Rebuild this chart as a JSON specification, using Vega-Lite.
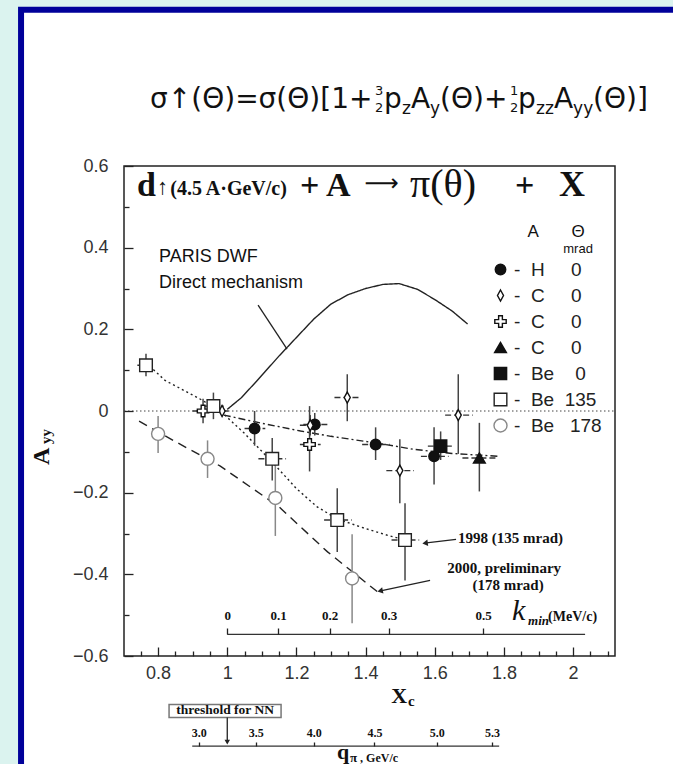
{
"$schema": "https://vega.github.io/schema/vega-lite/v6.json",
"width": 491, "height": 490,
"autosize": "none",
"padding": {"left": 124, "top": 166, "right": 58, "bottom": 108},
"background": "#dbf3ef",
"config": {
  "view": {"stroke": null},
  "axis": {"grid": false, "domain": false, "title": null, "labelColor": "#333", "tickColor": "#222", "tickWidth": 1.3, "labelFont": "Liberation Sans", "labelFontSize": 18},
  "text": {"color": "#111"}
},
"datasets": {
  "pts": [
    {"s": "H0", "x": 1.079, "y": -0.043, "ylo": -0.085, "yhi": 0.0, "xlo": 1.05, "xhi": 1.11},
    {"s": "H0", "x": 1.253, "y": -0.033, "ylo": -0.06, "yhi": -0.005, "xlo": 1.22, "xhi": 1.29},
    {"s": "H0", "x": 1.429, "y": -0.082, "ylo": -0.12, "yhi": -0.04, "xlo": 1.39, "xhi": 1.47},
    {"s": "H0", "x": 1.598, "y": -0.111, "ylo": -0.18, "yhi": -0.04, "xlo": 1.56, "xhi": 1.64},
    {"s": "C0d", "x": 0.985, "y": 0.0, "ylo": -0.012, "yhi": 0.012, "xlo": 0.96, "xhi": 1.01},
    {"s": "C0d", "x": 1.24, "y": -0.035, "ylo": -0.06, "yhi": -0.01, "xlo": 1.21, "xhi": 1.27},
    {"s": "C0d", "x": 1.347, "y": 0.033, "ylo": -0.025, "yhi": 0.09, "xlo": 1.31, "xhi": 1.385},
    {"s": "C0d", "x": 1.499, "y": -0.146, "ylo": -0.226, "yhi": -0.069, "xlo": 1.46, "xhi": 1.54},
    {"s": "C0d", "x": 1.668, "y": -0.01, "ylo": -0.105, "yhi": 0.09, "xlo": 1.63, "xhi": 1.71},
    {"s": "C0c", "x": 0.93, "y": 0.0, "ylo": -0.03, "yhi": 0.03, "xlo": 0.9, "xhi": 0.96},
    {"s": "C0c", "x": 1.238, "y": -0.082, "ylo": -0.148, "yhi": 0.012, "xlo": 1.21, "xhi": 1.27},
    {"s": "C0t", "x": 1.729, "y": -0.115, "ylo": -0.197, "yhi": -0.029, "xlo": 1.68, "xhi": 1.78},
    {"s": "Be0", "x": 1.617, "y": -0.086, "ylo": -0.12, "yhi": -0.05, "xlo": 1.58, "xhi": 1.65},
    {"s": "Be135", "x": 0.765, "y": 0.112, "ylo": 0.085, "yhi": 0.14, "xlo": 0.74, "xhi": 0.79},
    {"s": "Be135", "x": 0.96, "y": 0.012, "ylo": -0.02, "yhi": 0.045, "xlo": 0.93, "xhi": 0.99},
    {"s": "Be135", "x": 1.13, "y": -0.117, "ylo": -0.17, "yhi": -0.066, "xlo": 1.09, "xhi": 1.17},
    {"s": "Be135", "x": 1.318, "y": -0.267, "ylo": -0.345, "yhi": -0.189, "xlo": 1.28, "xhi": 1.36},
    {"s": "Be135", "x": 1.514, "y": -0.316, "ylo": -0.415, "yhi": -0.226, "xlo": 1.475, "xhi": 1.555},
    {"s": "Be178", "x": 0.8, "y": -0.056, "ylo": -0.103, "yhi": -0.012, "xlo": null, "xhi": null},
    {"s": "Be178", "x": 0.943, "y": -0.117, "ylo": -0.164, "yhi": -0.072, "xlo": null, "xhi": null},
    {"s": "Be178", "x": 1.139, "y": -0.213, "ylo": -0.306, "yhi": -0.13, "xlo": null, "xhi": null},
    {"s": "Be178", "x": 1.361, "y": -0.41, "ylo": -0.52, "yhi": -0.302, "xlo": null, "xhi": null}
  ],
  "curves": [
    {"c": "PARIS", "x": 1.0, "y": 0.004}, {"c": "PARIS", "x": 1.04, "y": 0.032}, {"c": "PARIS", "x": 1.086, "y": 0.074},
    {"c": "PARIS", "x": 1.15, "y": 0.135}, {"c": "PARIS", "x": 1.2, "y": 0.18}, {"c": "PARIS", "x": 1.25, "y": 0.225},
    {"c": "PARIS", "x": 1.3, "y": 0.262}, {"c": "PARIS", "x": 1.35, "y": 0.285}, {"c": "PARIS", "x": 1.4, "y": 0.3},
    {"c": "PARIS", "x": 1.45, "y": 0.31}, {"c": "PARIS", "x": 1.497, "y": 0.312}, {"c": "PARIS", "x": 1.55, "y": 0.298},
    {"c": "PARIS", "x": 1.6, "y": 0.273}, {"c": "PARIS", "x": 1.65, "y": 0.245}, {"c": "PARIS", "x": 1.695, "y": 0.213},
    {"c": "B135", "x": 0.765, "y": 0.118}, {"c": "B135", "x": 0.82, "y": 0.075}, {"c": "B135", "x": 0.92, "y": 0.03},
    {"c": "B135", "x": 0.98, "y": 0.0}, {"c": "B135", "x": 1.05, "y": -0.055}, {"c": "B135", "x": 1.13, "y": -0.125},
    {"c": "B135", "x": 1.2, "y": -0.19}, {"c": "B135", "x": 1.26, "y": -0.235}, {"c": "B135", "x": 1.32, "y": -0.265},
    {"c": "B135", "x": 1.4, "y": -0.288}, {"c": "B135", "x": 1.47, "y": -0.306}, {"c": "B135", "x": 1.515, "y": -0.316},
    {"c": "H", "x": 0.99, "y": -0.01}, {"c": "H", "x": 1.1, "y": -0.03}, {"c": "H", "x": 1.212, "y": -0.049},
    {"c": "H", "x": 1.3, "y": -0.062}, {"c": "H", "x": 1.443, "y": -0.08}, {"c": "H", "x": 1.54, "y": -0.094},
    {"c": "H", "x": 1.65, "y": -0.104}, {"c": "H", "x": 1.786, "y": -0.111},
    {"c": "B178", "x": 0.745, "y": -0.025}, {"c": "B178", "x": 0.85, "y": -0.075}, {"c": "B178", "x": 0.98, "y": -0.135},
    {"c": "B178", "x": 1.15, "y": -0.235}, {"c": "B178", "x": 1.29, "y": -0.345}, {"c": "B178", "x": 1.445, "y": -0.45}
  ],
  "kmin": [{"k": 0, "xc": 1.0}, {"k": 0.1, "xc": 1.1469}, {"k": 0.2, "xc": 1.2961}, {"k": 0.3, "xc": 1.4667}, {"k": 0.5, "xc": 1.7397}],
  "qpi": [{"q": 3.0, "xc": 0.9173}, {"q": 3.5, "xc": 1.0824}, {"q": 4.0, "xc": 1.2499}, {"q": 4.5, "xc": 1.4254}, {"q": 5.0, "xc": 1.6061}, {"q": 5.3, "xc": 1.7658}]
},
"layer": [
    {"data": {"values": [{}]},
     "mark": {"type": "rect", "fill": "white", "stroke": "#00009a", "strokeWidth": 6},
     "encoding": {
       "x": {"datum": 0.4037, "type": "quantitative",
             "scale": {"domain": [0.7014, 2.1212], "nice": false, "zero": false},
             "axis": {"orient": "bottom", "zindex": 2,
                      "values": [0.75,0.8,0.85,0.9,0.95,1,1.05,1.1,1.15,1.2,1.25,1.3,1.35,1.4,1.45,1.5,1.55,1.6,1.65,1.7,1.75,1.8,1.85,1.9,1.95,2,2.05,2.1],
                      "labelExpr": "abs(datum.value*5 - round(datum.value*5)) < 0.001 ? toString(round(datum.value*10)/10) : ''",
                      "tickSize": {"condition": {"test": "abs(datum.value*5 - round(datum.value*5)) < 0.001", "value": -9}, "value": -5},
                      "labelPadding": 17, "labelFlush": false, "labelOverlap": false}},
       "x2": {"datum": 2.4},
       "y": {"datum": 0.9824, "type": "quantitative",
             "scale": {"domain": [-0.6, 0.6], "nice": false, "zero": false},
             "axis": {"orient": "left", "zindex": 2,
                      "values": [-0.6,-0.55,-0.5,-0.45,-0.4,-0.35,-0.3,-0.25,-0.2,-0.15,-0.1,-0.05,0,0.05,0.1,0.15,0.2,0.25,0.3,0.35,0.4,0.45,0.5,0.55,0.6],
                      "labelExpr": "abs(datum.value*5 - round(datum.value*5)) < 0.001 ? (datum.value < -0.001 ? '\u2212' : '') + toString(abs(round(datum.value*10)/10)) : ''",
                      "tickSize": {"condition": {"test": "abs(datum.value*5 - round(datum.value*5)) < 0.001", "value": -9}, "value": -5},
                      "labelPadding": 25, "labelFlush": false, "labelOverlap": false}},
       "y2": {"datum": -1.0}
     }},
    {"data": {"values": [{}]},
     "mark": {"type": "rect", "fill": null, "fillOpacity": 0, "stroke": "#222", "strokeWidth": 1.5},
     "encoding": {"x": {"datum": 0.7014, "type": "quantitative", "axis": null}, "x2": {"datum": 2.1212}, "y": {"datum": -0.6, "type": "quantitative"}, "y2": {"datum": 0.6}}},
    {"data": {"values": [{}]},
     "mark": {"type": "rule", "stroke": "#444", "strokeWidth": 1, "strokeDash": [1.5, 2.5]},
     "encoding": {"x": {"datum": 0.7014, "type": "quantitative", "axis": null}, "x2": {"datum": 2.1212}, "y": {"datum": 0, "type": "quantitative"}}},
    {"data": {"name": "curves"},
     "mark": {"type": "line", "stroke": "#222", "strokeWidth": 1.4},
     "encoding": {
       "x": {"field": "x", "type": "quantitative", "axis": null},
       "y": {"field": "y", "type": "quantitative"},
       "strokeDash": {"field": "c", "type": "nominal", "legend": null,
                      "scale": {"domain": ["PARIS", "B135", "H", "B178"], "range": [[1, 0], [2, 3], [7, 3, 2, 3], [9, 6]]}}
     }},
    {"data": {"name": "pts"},
     "mark": {"type": "rule", "strokeWidth": 1.5},
     "encoding": {
       "x": {"field": "x", "type": "quantitative", "axis": null},
       "y": {"field": "ylo", "type": "quantitative"},
       "y2": {"field": "yhi"},
       "stroke": {"condition": {"test": "datum.s === 'Be178'", "value": "#888"}, "value": "#444"}
     }},
    {"data": {"name": "pts"},
     "transform": [{"filter": "datum.xlo != null"}],
     "mark": {"type": "rule", "strokeWidth": 1.4, "stroke": "#333", "strokeDash": [6, 3]},
     "encoding": {
       "x": {"field": "xlo", "type": "quantitative", "axis": null},
       "x2": {"field": "xhi"},
       "y": {"field": "y", "type": "quantitative"}
     }},
    {"data": {"name": "pts"},
     "mark": {"type": "point", "opacity": 1, "strokeWidth": 1.4},
     "encoding": {
       "x": {"field": "x", "type": "quantitative", "axis": null},
       "y": {"field": "y", "type": "quantitative"},
       "shape": {"field": "s", "type": "nominal",
                 "scale": {"domain": ["H0", "C0d", "C0c", "C0t", "Be0", "Be135", "Be178"],
                           "range": ["circle", "M0,-1L0.55,0L0,1L-0.55,0Z", "M-0.33,-1L0.33,-1L0.33,-0.33L1,-0.33L1,0.33L0.33,0.33L0.33,1L-0.33,1L-0.33,0.33L-1,0.33L-1,-0.33L-0.33,-0.33Z", "triangle-up", "square", "square", "circle"]},
                 "legend": {"orient": "none", "legendX": 367, "legendY": 94, "title": null, "zindex": 2,
                            "labelFont": "Liberation Sans", "labelFontSize": 19, "labelColor": "#222",
                            "rowPadding": 6, "labelOffset": 4, "symbolStrokeWidth": 1.4,
                            "labelExpr": "datum.label == 'H0' ? '-\u00a0\u00a0H\u00a0\u00a0\u00a0\u00a0\u00a00' : datum.label == 'Be0' ? '-\u00a0\u00a0Be\u00a0\u00a0\u00a0\u00a00' : datum.label == 'Be135' ? '-\u00a0\u00a0Be\u00a0\u00a0135' : datum.label == 'Be178' ? '-\u00a0\u00a0Be\u00a0\u00a0\u00a0178' : '-\u00a0\u00a0C\u00a0\u00a0\u00a0\u00a0\u00a00'",
                            "encode": {"labels": {"update": {"font": {"signal": "datum.value === 'Be178' ? 'Liberation Serif' : 'Liberation Sans'"}}}}}},
       "fill": {"field": "s", "type": "nominal",
                "scale": {"domain": ["H0", "C0d", "C0c", "C0t", "Be0", "Be135", "Be178"],
                          "range": ["#111", "white", "white", "#111", "#111", "white", "white"]}},
       "stroke": {"field": "s", "type": "nominal",
                  "scale": {"domain": ["H0", "C0d", "C0c", "C0t", "Be0", "Be135", "Be178"],
                            "range": ["#111", "#111", "#111", "#111", "#111", "#222", "#888"]}},
       "size": {"field": "s", "type": "nominal",
                "scale": {"domain": ["H0", "C0d", "C0c", "C0t", "Be0", "Be135", "Be178"],
                          "range": [110, 170, 150, 110, 120, 150, 150]}}
     }},
    {"data": {"values": [{}]}, "mark": {"type": "text", "text": "σ↑(Θ)=σ(Θ)[1+", "align": "left", "baseline": "alphabetic", "font": "DejaVu Sans", "fontSize": 28}, "encoding": {"x": {"datum": 0.7767, "type": "quantitative", "axis": null}, "y": {"datum": 0.7422, "type": "quantitative"}}},
    {"data": {"values": [{}]}, "mark": {"type": "text", "text": "3", "align": "left", "baseline": "alphabetic", "font": "DejaVu Sans", "fontSize": 13}, "encoding": {"x": {"datum": 1.4275, "type": "quantitative", "axis": null}, "y": {"datum": 0.7740, "type": "quantitative"}}},
    {"data": {"values": [{}]}, "mark": {"type": "text", "text": "2", "align": "left", "baseline": "alphabetic", "font": "DejaVu Sans", "fontSize": 13}, "encoding": {"x": {"datum": 1.4275, "type": "quantitative", "axis": null}, "y": {"datum": 0.7331, "type": "quantitative"}}},
    {"data": {"values": [{}]}, "mark": {"type": "text", "text": "p", "align": "left", "baseline": "alphabetic", "font": "DejaVu Sans", "fontSize": 28}, "encoding": {"x": {"datum": 1.4534, "type": "quantitative", "axis": null}, "y": {"datum": 0.7422, "type": "quantitative"}}},
    {"data": {"values": [{}]}, "mark": {"type": "text", "text": "z", "align": "left", "baseline": "alphabetic", "font": "DejaVu Sans", "fontSize": 17}, "encoding": {"x": {"datum": 1.5055, "type": "quantitative", "axis": null}, "y": {"datum": 0.7275, "type": "quantitative"}}},
    {"data": {"values": [{}]}, "mark": {"type": "text", "text": "A", "align": "left", "baseline": "alphabetic", "font": "DejaVu Sans", "fontSize": 28}, "encoding": {"x": {"datum": 1.5315, "type": "quantitative", "axis": null}, "y": {"datum": 0.7422, "type": "quantitative"}}},
    {"data": {"values": [{}]}, "mark": {"type": "text", "text": "y", "align": "left", "baseline": "alphabetic", "font": "DejaVu Sans", "fontSize": 17}, "encoding": {"x": {"datum": 1.5865, "type": "quantitative", "axis": null}, "y": {"datum": 0.7275, "type": "quantitative"}}},
    {"data": {"values": [{}]}, "mark": {"type": "text", "text": "(Θ)+", "align": "left", "baseline": "alphabetic", "font": "DejaVu Sans", "fontSize": 28}, "encoding": {"x": {"datum": 1.6154, "type": "quantitative", "axis": null}, "y": {"datum": 0.7422, "type": "quantitative"}}},
    {"data": {"values": [{}]}, "mark": {"type": "text", "text": "1", "align": "left", "baseline": "alphabetic", "font": "DejaVu Sans", "fontSize": 13}, "encoding": {"x": {"datum": 1.8179, "type": "quantitative", "axis": null}, "y": {"datum": 0.7740, "type": "quantitative"}}},
    {"data": {"values": [{}]}, "mark": {"type": "text", "text": "2", "align": "left", "baseline": "alphabetic", "font": "DejaVu Sans", "fontSize": 13}, "encoding": {"x": {"datum": 1.8179, "type": "quantitative", "axis": null}, "y": {"datum": 0.7331, "type": "quantitative"}}},
    {"data": {"values": [{}]}, "mark": {"type": "text", "text": "p", "align": "left", "baseline": "alphabetic", "font": "DejaVu Sans", "fontSize": 28}, "encoding": {"x": {"datum": 1.8410, "type": "quantitative", "axis": null}, "y": {"datum": 0.7422, "type": "quantitative"}}},
    {"data": {"values": [{}]}, "mark": {"type": "text", "text": "zz", "align": "left", "baseline": "alphabetic", "font": "DejaVu Sans", "fontSize": 17}, "encoding": {"x": {"datum": 1.8931, "type": "quantitative", "axis": null}, "y": {"datum": 0.7275, "type": "quantitative"}}},
    {"data": {"values": [{}]}, "mark": {"type": "text", "text": "A", "align": "left", "baseline": "alphabetic", "font": "DejaVu Sans", "fontSize": 28}, "encoding": {"x": {"datum": 1.9451, "type": "quantitative", "axis": null}, "y": {"datum": 0.7422, "type": "quantitative"}}},
    {"data": {"values": [{}]}, "mark": {"type": "text", "text": "yy", "align": "left", "baseline": "alphabetic", "font": "DejaVu Sans", "fontSize": 17}, "encoding": {"x": {"datum": 2.0, "type": "quantitative", "axis": null}, "y": {"datum": 0.7275, "type": "quantitative"}}},
    {"data": {"values": [{}]}, "mark": {"type": "text", "text": "(Θ)]", "align": "left", "baseline": "alphabetic", "font": "DejaVu Sans", "fontSize": 28}, "encoding": {"x": {"datum": 2.0579, "type": "quantitative", "axis": null}, "y": {"datum": 0.7422, "type": "quantitative"}}},

    {"data": {"values": [{}]}, "mark": {"type": "text", "text": "d", "align": "left", "baseline": "alphabetic", "font": "Liberation Serif", "fontWeight": "bold", "fontSize": 34}, "encoding": {"x": {"datum": 0.7392, "type": "quantitative", "axis": null}, "y": {"datum": 0.5265, "type": "quantitative"}}},
    {"data": {"values": [{}]}, "mark": {"type": "text", "text": "↑", "align": "left", "baseline": "alphabetic", "font": "Liberation Serif", "fontSize": 22}, "encoding": {"x": {"datum": 0.7970, "type": "quantitative", "axis": null}, "y": {"datum": 0.5314, "type": "quantitative"}}},
    {"data": {"values": [{}]}, "mark": {"type": "text", "text": "(4.5 A·GeV/c)", "align": "left", "baseline": "alphabetic", "font": "Liberation Serif", "fontWeight": "bold", "fontSize": 20}, "encoding": {"x": {"datum": 0.8352, "type": "quantitative", "axis": null}, "y": {"datum": 0.5289, "type": "quantitative"}}},
    {"data": {"values": [{}]}, "mark": {"type": "text", "text": "+ A", "align": "left", "baseline": "alphabetic", "font": "Liberation Serif", "fontWeight": "bold", "fontSize": 34}, "encoding": {"x": {"datum": 1.2105, "type": "quantitative", "axis": null}, "y": {"datum": 0.5265, "type": "quantitative"}}},
    {"data": {"values": [{}]}, "mark": {"type": "text", "text": "⟶", "align": "left", "baseline": "alphabetic", "font": "DejaVu Sans", "fontSize": 24}, "encoding": {"x": {"datum": 1.3965, "type": "quantitative", "axis": null}, "y": {"datum": 0.5387, "type": "quantitative"}}},
    {"data": {"values": [{}]}, "mark": {"type": "text", "text": "π(θ)", "align": "left", "baseline": "alphabetic", "font": "Liberation Serif", "fontSize": 40}, "encoding": {"x": {"datum": 1.5286, "type": "quantitative", "axis": null}, "y": {"datum": 0.5240, "type": "quantitative"}}},
    {"data": {"values": [{}]}, "mark": {"type": "text", "text": "+", "align": "left", "baseline": "alphabetic", "font": "Liberation Serif", "fontWeight": "bold", "fontSize": 34}, "encoding": {"x": {"datum": 1.8323, "type": "quantitative", "axis": null}, "y": {"datum": 0.5265, "type": "quantitative"}}},
    {"data": {"values": [{}]}, "mark": {"type": "text", "text": "X", "align": "left", "baseline": "alphabetic", "font": "Liberation Serif", "fontWeight": "bold", "fontSize": 36}, "encoding": {"x": {"datum": 1.9595, "type": "quantitative", "axis": null}, "y": {"datum": 0.5265, "type": "quantitative"}}},

    {"data": {"values": [{}]}, "mark": {"type": "text", "text": "A", "align": "center", "baseline": "alphabetic", "font": "Liberation Sans", "fontSize": 17}, "encoding": {"x": {"datum": 1.8843, "type": "quantitative", "axis": null}, "y": {"datum": 0.426, "type": "quantitative"}}},
    {"data": {"values": [{}]}, "mark": {"type": "text", "text": "Θ", "align": "center", "baseline": "alphabetic", "font": "Liberation Sans", "fontSize": 17}, "encoding": {"x": {"datum": 2.0145, "type": "quantitative", "axis": null}, "y": {"datum": 0.426, "type": "quantitative"}}},
    {"data": {"values": [{}]}, "mark": {"type": "text", "text": "mrad", "align": "center", "baseline": "alphabetic", "font": "Liberation Sans", "fontSize": 13}, "encoding": {"x": {"datum": 2.0145, "type": "quantitative", "axis": null}, "y": {"datum": 0.3868, "type": "quantitative"}}},

    {"data": {"values": [{}]}, "mark": {"type": "text", "text": "PARIS DWF", "align": "left", "baseline": "alphabetic", "font": "Liberation Sans", "fontSize": 18}, "encoding": {"x": {"datum": 0.8028, "type": "quantitative", "axis": null}, "y": {"datum": 0.3647, "type": "quantitative"}}},
    {"data": {"values": [{}]}, "mark": {"type": "text", "text": "Direct mechanism", "align": "left", "baseline": "alphabetic", "font": "Liberation Sans", "fontSize": 18}, "encoding": {"x": {"datum": 0.8028, "type": "quantitative", "axis": null}, "y": {"datum": 0.3010, "type": "quantitative"}}},
    {"data": {"values": [{}]}, "mark": {"type": "rule", "stroke": "#222", "strokeWidth": 1.3}, "encoding": {"x": {"datum": 1.0891, "type": "quantitative", "axis": null}, "y": {"datum": 0.2593, "type": "quantitative"}, "x2": {"datum": 1.1729}, "y2": {"datum": 0.1515}}},

    {"data": {"values": [{}]}, "mark": {"type": "text", "text": "1998  (135 mrad)", "align": "left", "baseline": "alphabetic", "font": "Liberation Serif", "fontWeight": "bold", "fontSize": 15}, "encoding": {"x": {"datum": 1.6674, "type": "quantitative", "axis": null}, "y": {"datum": -0.3240, "type": "quantitative"}}},
    {"data": {"values": [{}]}, "mark": {"type": "rule", "stroke": "#222", "strokeWidth": 1.2}, "encoding": {"x": {"datum": 1.6616, "type": "quantitative", "axis": null}, "y": {"datum": -0.3142, "type": "quantitative"}, "x2": {"datum": 1.5700}, "y2": {"datum": -0.3235}}},
    {"data": {"values": [{}]}, "mark": {"type": "point", "shape": "triangle-left", "filled": true, "color": "#222", "size": 40, "opacity": 1, "angle": 352}, "encoding": {"x": {"datum": 1.5720, "type": "quantitative", "axis": null}, "y": {"datum": -0.3236, "type": "quantitative"}}},
    {"data": {"values": [{}]}, "mark": {"type": "text", "text": "2000, preliminary", "align": "center", "baseline": "alphabetic", "font": "Liberation Serif", "fontWeight": "bold", "fontSize": 15}, "encoding": {"x": {"datum": 1.8005, "type": "quantitative", "axis": null}, "y": {"datum": -0.3975, "type": "quantitative"}}},
    {"data": {"values": [{}]}, "mark": {"type": "text", "text": "(178 mrad)", "align": "center", "baseline": "alphabetic", "font": "Liberation Serif", "fontWeight": "bold", "fontSize": 15}, "encoding": {"x": {"datum": 1.8120, "type": "quantitative", "axis": null}, "y": {"datum": -0.4392, "type": "quantitative"}}},
    {"data": {"values": [{}]}, "mark": {"type": "rule", "stroke": "#222", "strokeWidth": 1.2}, "encoding": {"x": {"datum": 1.5865, "type": "quantitative", "axis": null}, "y": {"datum": -0.4147, "type": "quantitative"}, "x2": {"datum": 1.4400}, "y2": {"datum": -0.4410}}},
    {"data": {"values": [{}]}, "mark": {"type": "point", "shape": "triangle-left", "filled": true, "color": "#222", "size": 40, "opacity": 1, "angle": 348}, "encoding": {"x": {"datum": 1.4420, "type": "quantitative", "axis": null}, "y": {"datum": -0.4406, "type": "quantitative"}}},

    {"data": {"values": [{}]}, "mark": {"type": "text", "text": "k", "align": "left", "baseline": "alphabetic", "font": "Liberation Serif", "fontStyle": "italic", "fontSize": 30}, "encoding": {"x": {"datum": 1.8236, "type": "quantitative", "axis": null}, "y": {"datum": -0.5127, "type": "quantitative"}}},
    {"data": {"values": [{}]}, "mark": {"type": "text", "text": "min", "align": "left", "baseline": "alphabetic", "font": "Liberation Serif", "fontStyle": "italic", "fontWeight": "bold", "fontSize": 13}, "encoding": {"x": {"datum": 1.8699, "type": "quantitative", "axis": null}, "y": {"datum": -0.525, "type": "quantitative"}}},
    {"data": {"values": [{}]}, "mark": {"type": "text", "text": "(MeV/c)", "align": "left", "baseline": "alphabetic", "font": "Liberation Serif", "fontWeight": "bold", "fontSize": 14}, "encoding": {"x": {"datum": 1.9277, "type": "quantitative", "axis": null}, "y": {"datum": -0.5152, "type": "quantitative"}}},
    {"data": {"values": [{}]}, "mark": {"type": "rule", "stroke": "#333", "strokeWidth": 1.3}, "encoding": {"x": {"datum": 1.0, "type": "quantitative", "axis": null}, "x2": {"datum": 2.0347}, "y": {"datum": -0.5471, "type": "quantitative"}}},

    {"data": {"values": [{}]}, "mark": {"type": "text", "text": "X", "align": "center", "baseline": "alphabetic", "font": "Liberation Serif", "fontWeight": "bold", "fontSize": 22}, "encoding": {"x": {"datum": 1.4968, "type": "quantitative", "axis": null}, "y": {"datum": -0.7162, "type": "quantitative"}}},
    {"data": {"values": [{}]}, "mark": {"type": "text", "text": "c", "align": "left", "baseline": "alphabetic", "font": "Liberation Serif", "fontWeight": "bold", "fontSize": 15}, "encoding": {"x": {"datum": 1.5229, "type": "quantitative", "axis": null}, "y": {"datum": -0.7235, "type": "quantitative"}}},
    {"data": {"values": [{}]}, "mark": {"type": "text", "text": "A", "align": "center", "baseline": "middle", "angle": 270, "font": "Liberation Serif", "fontWeight": "bold", "fontSize": 24}, "encoding": {"x": {"datum": 0.4644, "type": "quantitative", "axis": null}, "y": {"datum": -0.1108, "type": "quantitative"}}},
    {"data": {"values": [{}]}, "mark": {"type": "text", "text": "yy", "align": "center", "baseline": "middle", "angle": 270, "font": "Liberation Serif", "fontWeight": "bold", "fontSize": 15}, "encoding": {"x": {"datum": 0.4760, "type": "quantitative", "axis": null}, "y": {"datum": -0.0625, "type": "quantitative"}}},

    {"data": {"values": [{}]}, "mark": {"type": "rect", "fill": "white", "stroke": "#777", "strokeWidth": 1.5}, "encoding": {"x": {"datum": 0.8317, "type": "quantitative", "axis": null}, "x2": {"datum": 1.1556}, "y": {"datum": -0.7186, "type": "quantitative"}, "y2": {"datum": -0.7505}}},
    {"data": {"values": [{}]}, "mark": {"type": "text", "text": "threshold for NN", "align": "center", "baseline": "alphabetic", "font": "Liberation Serif", "fontWeight": "bold", "fontSize": 13.5}, "encoding": {"x": {"datum": 0.9936, "type": "quantitative", "axis": null}, "y": {"datum": -0.7431, "type": "quantitative"}}},
    {"data": {"values": [{}]}, "mark": {"type": "rule", "stroke": "#222", "strokeWidth": 1.3}, "encoding": {"x": {"datum": 1.0, "type": "quantitative", "axis": null}, "y": {"datum": -0.7505, "type": "quantitative"}, "y2": {"datum": -0.8100}}},
    {"data": {"values": [{}]}, "mark": {"type": "point", "shape": "triangle-down", "filled": true, "color": "#222", "size": 30, "opacity": 1}, "encoding": {"x": {"datum": 1.0, "type": "quantitative", "axis": null}, "y": {"datum": -0.8108, "type": "quantitative"}}},
    {"data": {"values": [{}]}, "mark": {"type": "rule", "stroke": "#333", "strokeWidth": 1.3}, "encoding": {"x": {"datum": 0.8987, "type": "quantitative", "axis": null}, "x2": {"datum": 1.7862}, "y": {"datum": -0.8206, "type": "quantitative"}}},
    {"data": {"values": [{}]}, "mark": {"type": "text", "text": "q", "align": "left", "baseline": "alphabetic", "font": "Liberation Serif", "fontWeight": "bold", "fontSize": 22}, "encoding": {"x": {"datum": 1.3175, "type": "quantitative", "axis": null}, "y": {"datum": -0.8534, "type": "quantitative"}}},
    {"data": {"values": [{}]}, "mark": {"type": "text", "text": "π", "align": "left", "baseline": "alphabetic", "font": "Liberation Serif", "fontWeight": "bold", "fontSize": 13}, "encoding": {"x": {"datum": 1.3551, "type": "quantitative", "axis": null}, "y": {"datum": -0.8608, "type": "quantitative"}}},
    {"data": {"values": [{}]}, "mark": {"type": "text", "text": ", GeV/c", "align": "left", "baseline": "alphabetic", "font": "Liberation Serif", "fontWeight": "bold", "fontSize": 12}, "encoding": {"x": {"datum": 1.3840, "type": "quantitative", "axis": null}, "y": {"datum": -0.8608, "type": "quantitative"}}},

  {"data": {"name": "kmin"},
   "mark": {"type": "point", "opacity": 0},
   "encoding": {"x": {"field": "xc", "type": "quantitative",
                      "axis": {"orient": "top", "offset": -468, "zindex": 2, "values": [1.0, 1.1469, 1.2961, 1.4667, 1.7397], "domain": false,
                               "tickSize": 6, "tickWidth": 1.3, "labelPadding": 6, "labelFont": "Liberation Serif", "labelFontWeight": "bold", "labelFontSize": 13, "labelColor": "#111",
                               "labelExpr": "datum.value < 1.05 ? '0' : datum.value < 1.2 ? '0.1' : datum.value < 1.4 ? '0.2' : datum.value < 1.6 ? '0.3' : '0.5'", "labelFlush": false, "labelOverlap": false}}}},
  {"data": {"name": "qpi"},
   "mark": {"type": "point", "opacity": 0},
   "encoding": {"x": {"field": "xc", "type": "quantitative",
                      "axis": {"orient": "top", "offset": -580, "zindex": 2, "values": [0.9173, 1.0824, 1.2499, 1.4254, 1.6061, 1.7658], "domain": false,
                               "tickSize": 4, "tickWidth": 1.3, "labelPadding": 3, "labelFont": "Liberation Serif", "labelFontWeight": "bold", "labelFontSize": 12, "labelColor": "#111",
                               "labelExpr": "datum.value < 1.0 ? '3.0' : datum.value < 1.15 ? '3.5' : datum.value < 1.3 ? '4.0' : datum.value < 1.5 ? '4.5' : datum.value < 1.7 ? '5.0' : '5.3'", "labelFlush": false, "labelOverlap": false}}}}
],
"resolve": {"axis": {"x": "independent"}}
}
